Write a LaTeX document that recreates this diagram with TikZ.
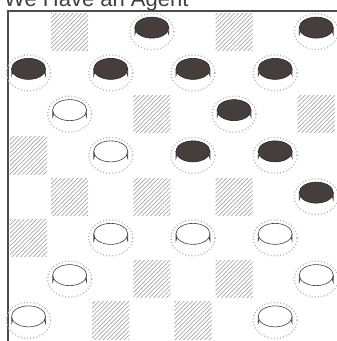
\documentclass[tikz,border=0pt]{standalone}
\usepackage{fontspec}
\setmainfont{Liberation Sans}
\usetikzlibrary{patterns.meta}
\definecolor{pc}{HTML}{463E3A}
\tikzset{
  hatchsq/.style={pattern={Lines[angle=45,distance=3pt,line width=0.7pt]},pattern color=gray!70},
  border/.style={draw=black!70,line width=1.6pt},
  halo/.style={draw=gray!55,line width=1.4pt,dash pattern=on 1pt off 2.2pt},
  rimline/.style={draw=black!75,line width=0.6pt},
}
\newcommand{\pbase}{%
  \draw[halo] (\cx,\cy) ellipse [x radius=22, y radius=18];
  \filldraw[fill=white,rimline] (\cx-17,\cy-4) -- (\cx-17,\cy+3) arc[start angle=180,end angle=360,x radius=17,y radius=10] -- (\cx+17,\cy-4) -- cycle;
  \draw[rimline] (\cx-16.5,\cy+0.5) arc[start angle=180,end angle=360,x radius=16.5,y radius=9.5];
}
\newcommand{\bpiece}[2]{%
  \pgfmathsetmacro{\cx}{8+41.1*(#2+0.5)}%
  \pgfmathsetmacro{\cy}{11+41.25*(#1+0.5)}%
  \pbase
  \filldraw[fill=pc,draw=black!85,line width=0.6pt] (\cx,\cy-4) ellipse [x radius=17, y radius=10.5];
}
\newcommand{\wpiece}[2]{%
  \pgfmathsetmacro{\cx}{8+41.1*(#2+0.5)}%
  \pgfmathsetmacro{\cy}{11+41.25*(#1+0.5)}%
  \pbase
  \filldraw[fill=white,rimline] (\cx,\cy-4) ellipse [x radius=17, y radius=10.5];
}
\newcommand{\hsq}[2]{%
  \pgfmathsetmacro{\sx}{8+41.1*#2}%
  \pgfmathsetmacro{\sy}{11+41.25*#1}%
  \fill[hatchsq] (\sx+2,\sy+2) rectangle (\sx+39.1,\sy+39.25);
}
\begin{document}
\begin{tikzpicture}[x=1pt,y=-1pt]
\useasboundingbox (0,0) rectangle (337,341);
\fill[white] (0,0) rectangle (337,341);
\begin{scope}
\clip (0,0) rectangle (337,9);
\node[anchor=base west,inner sep=0pt,font=\fontsize{22}{22}\selectfont,text=black!75] (title) at (4,6.5) {We Have an Agent};
\end{scope}
% hatched empty dark squares
\hsq{0}{1}\hsq{0}{5}
\hsq{2}{3}\hsq{2}{7}
\hsq{3}{0}
\hsq{4}{1}\hsq{4}{3}\hsq{4}{5}
\hsq{5}{0}
\hsq{6}{3}\hsq{6}{5}
\hsq{7}{2}\hsq{7}{4}
% border
\draw[border] (337,11) -- (8,11) -- (8,341);
% black pieces
\bpiece{0}{3}\bpiece{0}{7}
\bpiece{1}{0}\bpiece{1}{2}\bpiece{1}{4}\bpiece{1}{6}
\bpiece{2}{5}
\bpiece{3}{4}\bpiece{3}{6}
\bpiece{4}{7}
% white pieces
\wpiece{2}{1}
\wpiece{3}{2}
\wpiece{5}{2}\wpiece{5}{4}\wpiece{5}{6}
\wpiece{6}{1}\wpiece{6}{7}
\wpiece{7}{0}\wpiece{7}{6}
\end{tikzpicture}
\end{document}
